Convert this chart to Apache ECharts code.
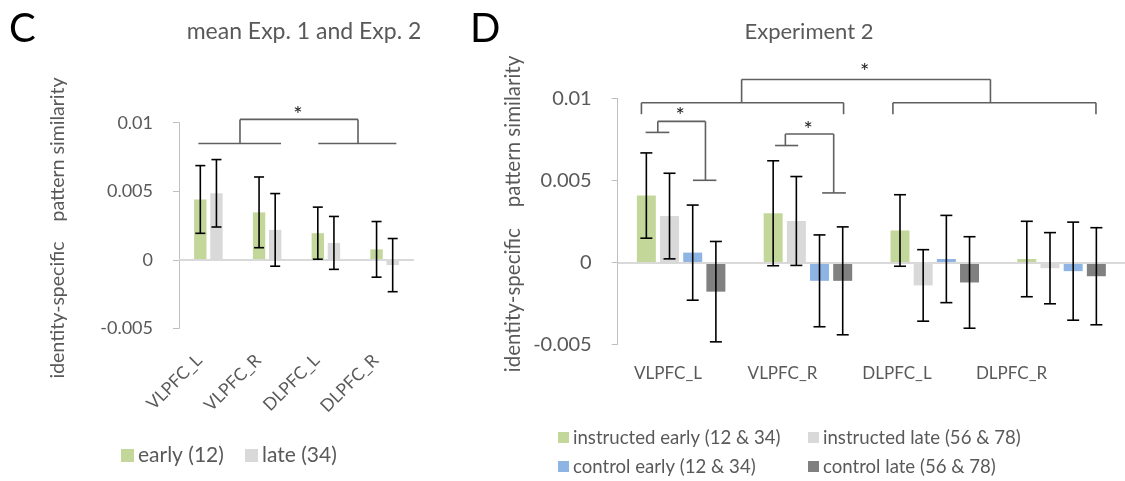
<!DOCTYPE html>
<html>
<head>
<meta charset="utf-8">
<script src="https://cdn.jsdelivr.net/npm/echarts@6/dist/echarts.min.js"></script>
<style>
html, body { margin: 0; padding: 0; background: #fff; }
#chart { width: 1125px; height: 481px; }
</style>
</head>
<body>
<div id="chart"></div>
<script>
// regions (same for both panels)
const regions = ['VLPFC_L', 'VLPFC_R', 'DLPFC_L', 'DLPFC_R']
const yTicks = [-0.005, 0, 0.005, 0.01]
const yTickLabels = ['-0.005', '0', '0.005', '0.01']

// panel C: mean Exp. 1 and Exp. 2
const cEarly = [0.0044, 0.00346, 0.00194, 0.00076]
const cEarlyErr = [0.00247, 0.00258, 0.0019, 0.00203]
const cLate = [0.00485, 0.00218, 0.00123, -0.00039]
const cLateErr = [0.00246, 0.00265, 0.00193, 0.00194]

// panel D: Experiment 2
const dInstEarly = [0.00407, 0.00299, 0.00194, 0.0002]
const dInstEarlyErr = [0.0026, 0.0032, 0.00218, 0.0023]
const dInstLate = [0.00282, 0.00252, -0.00141, -0.00036]
const dInstLateErr = [0.00261, 0.00271, 0.00218, 0.00217]
const dCtrlEarly = [0.00059, -0.00113, 0.0002, -0.00054]
const dCtrlEarlyErr = [0.0029, 0.0028, 0.00266, 0.00299]
const dCtrlLate = [-0.00179, -0.00113, -0.00123, -0.00085]
const dCtrlLateErr = [0.00306, 0.00329, 0.00279, 0.00296]

// significance brackets, x in category slots (0..4), y in data units
const cBrackets = [
  [0.33, 0.00848, 1.736, 0.00848],
  [2.371, 0.00848, 3.70, 0.00848],
  [1.038, 0.01024, 3.047, 0.01024],
  [1.038, 0.00848, 1.038, 0.01024],
  [3.047, 0.00848, 3.047, 0.01024]
]
const cStars = [[2.026, 0.0106]]

const dBrackets = [
  [0.977, 0.01115, 2.939, 0.01115],
  [0.977, 0.00973, 0.977, 0.01115],
  [2.939, 0.00973, 2.939, 0.01115],
  [0.187, 0.00973, 1.781, 0.00973],
  [0.187, 0.00903, 0.187, 0.00973],
  [1.781, 0.00903, 1.781, 0.00973],
  [2.170, 0.00973, 3.771, 0.00973],
  [2.170, 0.00903, 2.170, 0.00973],
  [3.771, 0.00903, 3.771, 0.00973],
  // VLPFC_L
  [0.220, 0.00792, 0.407, 0.00792],
  [0.316, 0.00792, 0.316, 0.00859],
  [0.316, 0.00859, 0.692, 0.00859],
  [0.692, 0.005, 0.692, 0.00859],
  [0.593, 0.005, 0.778, 0.005],
  // VLPFC_R
  [1.241, 0.00712, 1.423, 0.00712],
  [1.322, 0.00712, 1.322, 0.00782],
  [1.322, 0.00782, 1.703, 0.00782],
  [1.703, 0.00423, 1.703, 0.00782],
  [1.612, 0.00423, 1.799, 0.00423]
]
const dStars = [[1.948, 0.0116], [0.492, 0.0089], [1.501, 0.0081]]

const FONT = 'Lato'
const TXT = '#595959'

function errData (seriesList) {
  const out = []
  seriesList.forEach((s, si) => {
    s.vals.forEach((v, i) => {
      out.push([i, si, v - s.err[i], v + s.err[i]])
    })
  })
  return out
}

function errSeries (xIdx, yIdx, seriesList, step, cap) {
  const n = seriesList.length
  return {
    type: 'custom',
    xAxisIndex: xIdx,
    yAxisIndex: yIdx,
    silent: true,
    z: 5,
    encode: { x: 0, y: [2, 3] },
    data: errData(seriesList),
    renderItem (params, api) {
      const cat = api.value(0)
      const si = api.value(1)
      const lo = api.coord([cat, api.value(2)])
      const hi = api.coord([cat, api.value(3)])
      const x = lo[0] + (si - (n - 1) / 2) * step
      const st = { stroke: '#000', lineWidth: 1.6 }
      return {
        type: 'group',
        children: [
          { type: 'line', shape: { x1: x, y1: lo[1], x2: x, y2: hi[1] }, style: st },
          { type: 'line', shape: { x1: x - cap / 2, y1: lo[1], x2: x + cap / 2, y2: lo[1] }, style: st },
          { type: 'line', shape: { x1: x - cap / 2, y1: hi[1], x2: x + cap / 2, y2: hi[1] }, style: st }
        ]
      }
    }
  }
}

function bracketSeries (xIdx, yIdx, segs) {
  return {
    type: 'custom',
    xAxisIndex: xIdx,
    yAxisIndex: yIdx,
    silent: true,
    encode: { x: [0, 2], y: [1, 3] },
    data: segs,
    renderItem (params, api) {
      const p1 = api.coord([api.value(0), api.value(1)])
      const p2 = api.coord([api.value(2), api.value(3)])
      return {
        type: 'line',
        shape: { x1: p1[0], y1: p1[1], x2: p2[0], y2: p2[1] },
        style: { stroke: '#5f5f5f', lineWidth: 1.6 }
      }
    }
  }
}

function starSeries (xIdx, yIdx, stars) {
  return {
    type: 'custom',
    xAxisIndex: xIdx,
    yAxisIndex: yIdx,
    silent: true,
    encode: { x: 0, y: 1 },
    data: stars,
    renderItem (params, api) {
      const p = api.coord([api.value(0), api.value(1)])
      return {
        type: 'text',
        x: p[0],
        y: p[1],
        style: { text: '*', fontSize: 22, fontFamily: FONT, fill: '#222', align: 'center', verticalAlign: 'middle' }
      }
    }
  }
}

function valueAxis (gridIndex, fontSize, margin) {
  return {
    type: 'value',
    gridIndex,
    min: -0.005,
    max: 0.01,
    interval: 0.005,
    axisLine: { show: true, lineStyle: { color: '#bfbfbf', width: 1 } },
    axisTick: { show: true, length: 6, lineStyle: { color: '#bfbfbf' } },
    splitLine: { show: false },
    axisLabel: {
      margin,
      color: TXT,
      fontSize,
      fontFamily: FONT,
      formatter: v => {
        const k = yTicks.findIndex(t => Math.abs(t - v) < 1e-9)
        return k >= 0 ? yTickLabels[k] : ''
      }
    }
  }
}

const zeroLine = {
  silent: true,
  symbol: 'none',
  label: { show: false },
  lineStyle: { color: '#d9d9d9', width: 2, type: 'solid' },
  data: [{ yAxis: 0 }]
}

function bar (name, data, color, xIdx, yIdx, width, gap, mark) {
  const s = {
    name,
    type: 'bar',
    xAxisIndex: xIdx,
    yAxisIndex: yIdx,
    barWidth: width,
    barGap: gap,
    data,
    itemStyle: { color },
    emphasis: { disabled: true }
  }
  if (mark) s.markLine = zeroLine
  return s
}

function legendItem (name, left, top, size, fontSize) {
  return {
    data: [name],
    left,
    top,
    padding: 0,
    itemWidth: size,
    itemHeight: size,
    itemGap: 0,
    icon: 'rect',
    textStyle: { color: TXT, fontSize, fontFamily: FONT, padding: [0, 0, 0, -1] }
  }
}

const colors = {
  green: '#c4d79b',
  light: '#d9d9d9',
  blue: '#8db4e2',
  dark: '#808080'
}

const myChart = echarts.init(document.getElementById('chart'))

myChart.setOption({
  animation: false,
  textStyle: { fontFamily: FONT },
  grid: [
    { left: 179, top: 122.7, width: 235, height: 205.6 },
    { left: 617.7, top: 98.3, width: 514.4, height: 246 },
    { left: 610.75, top: 344.3, width: 458, height: 1 }
  ],
  xAxis: [
    {
      type: 'category',
      gridIndex: 0,
      data: regions,
      axisLine: { show: false, onZero: false },
      axisTick: { show: false },
      axisLabel: { rotate: 45, margin: 20, padding: [0, 13, 0, 0], color: TXT, fontSize: 17.5, fontFamily: FONT }
    },
    { type: 'value', gridIndex: 0, min: 0, max: 4, show: false },
    {
      type: 'category',
      gridIndex: 1,
      data: regions,
      axisLine: { show: false, onZero: false },
      axisTick: { show: false },
      axisLabel: { show: false }
    },
    { type: 'value', gridIndex: 1, min: 0, max: 4, show: false },
    {
      type: 'category',
      gridIndex: 2,
      data: regions,
      axisLine: { show: false, onZero: false },
      axisTick: { show: false },
      axisLabel: { margin: 20, color: TXT, fontSize: 17, fontFamily: FONT }
    }
  ],
  yAxis: [
    valueAxis(0, 18, 26),
    valueAxis(1, 20, 26),
    { type: 'value', gridIndex: 2, show: false }
  ],
  legend: [
    legendItem('early (12)', 121, 445, 13, 21),
    legendItem('late (34)', 245, 445, 13, 21),
    legendItem('instructed early (12 & 34)', 558, 428, 11, 18.6),
    legendItem('instructed late (56 & 78)', 808, 428, 11, 18.6),
    legendItem('control early (12 & 34)', 558, 457, 11, 18.6),
    legendItem('control late (56 & 78)', 808, 457, 11, 18.6)
  ],
  graphic: [
    { type: 'text', left: 9, top: 9, style: { text: 'C', fontSize: 40, fontFamily: FONT, fill: '#000' } },
    { type: 'text', left: 470, top: 9, style: { text: 'D', fontSize: 40, fontFamily: FONT, fill: '#000' } },
    { type: 'text', x: 304, y: 32, style: { text: 'mean Exp. 1 and Exp. 2', fontSize: 23, fontFamily: FONT, fill: TXT, align: 'center', verticalAlign: 'middle' } },
    { type: 'text', x: 809, y: 32, style: { text: 'Experiment 2', fontSize: 22, fontFamily: FONT, fill: TXT, align: 'center', verticalAlign: 'middle' } },
    { type: 'text', x: 58, y: 228, rotation: Math.PI / 2, style: { text: 'identity-specific    pattern similarity', fontSize: 19.5, fontFamily: FONT, fill: TXT, align: 'center', verticalAlign: 'middle' } },
    { type: 'text', x: 513, y: 214, rotation: Math.PI / 2, style: { text: 'identity-specific    pattern similarity', fontSize: 20.5, fontFamily: FONT, fill: TXT, align: 'center', verticalAlign: 'middle' } }
  ],
  series: [
    bar('early (12)', cEarly, colors.green, 0, 0, 12.4, '30%', true),
    bar('late (34)', cLate, colors.light, 0, 0, 12.4, '30%', false),
    errSeries(0, 0, [{ vals: cEarly, err: cEarlyErr }, { vals: cLate, err: cLateErr }], 12.4 * 1.3, 10),
    bracketSeries(1, 0, cBrackets),
    starSeries(1, 0, cStars),

    bar('instructed early (12 & 34)', dInstEarly, colors.green, 2, 1, 19, '22%', true),
    bar('instructed late (56 & 78)', dInstLate, colors.light, 2, 1, 19, '22%', false),
    bar('control early (12 & 34)', dCtrlEarly, colors.blue, 2, 1, 19, '22%', false),
    bar('control late (56 & 78)', dCtrlLate, colors.dark, 2, 1, 19, '22%', false),
    errSeries(2, 1, [
      { vals: dInstEarly, err: dInstEarlyErr },
      { vals: dInstLate, err: dInstLateErr },
      { vals: dCtrlEarly, err: dCtrlEarlyErr },
      { vals: dCtrlLate, err: dCtrlLateErr }
    ], 19 * 1.22, 12),
    bracketSeries(3, 1, dBrackets),
    starSeries(3, 1, dStars)
  ]
})
</script>
</body>
</html>
